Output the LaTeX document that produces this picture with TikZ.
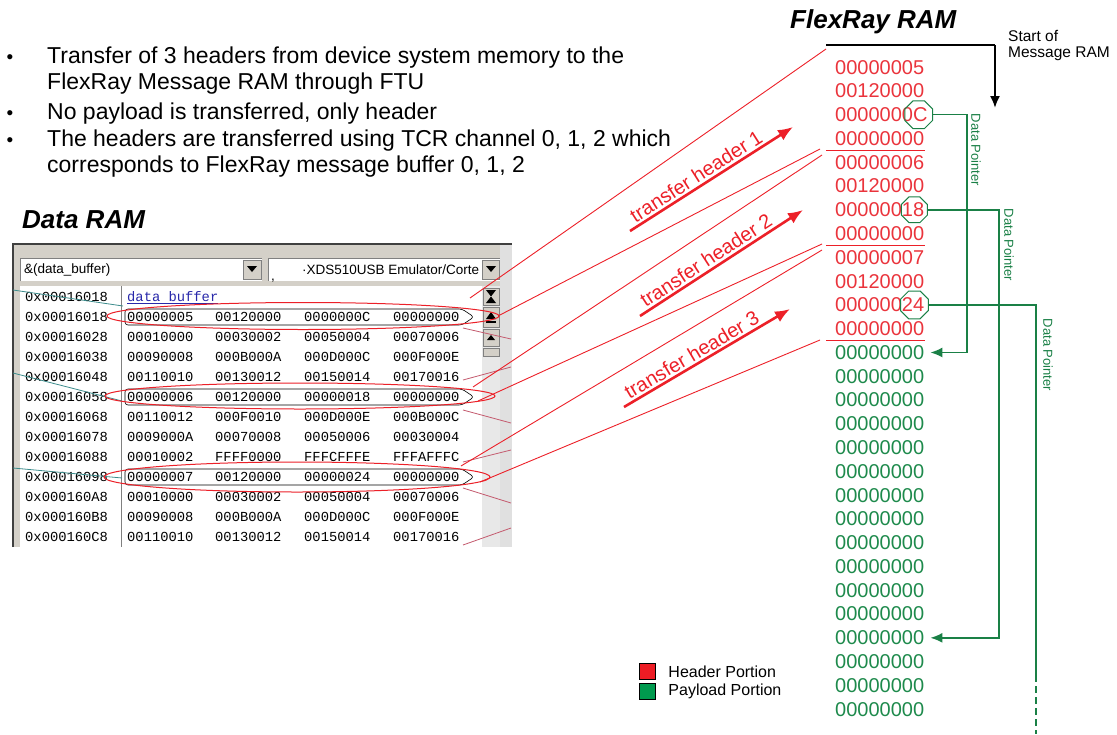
\documentclass[tikz,border=0pt]{standalone}
\usepackage{fontspec}
\setmainfont{Liberation Sans}
\newfontfamily\memfont{Liberation Mono}
\usetikzlibrary{shapes.geometric,arrows.meta,positioning}

\definecolor{hdrred}{RGB}{236,32,40}
\definecolor{valred}{RGB}{234,52,60}
\definecolor{ptrgreen}{RGB}{26,128,70}
\definecolor{valgreen}{RGB}{30,138,76}
\definecolor{legred}{RGB}{237,28,36}
\definecolor{leggreen}{RGB}{0,154,78}
\definecolor{winface}{RGB}{212,208,200}
\definecolor{winshade}{RGB}{128,128,128}
\definecolor{ghostred}{RGB}{196,90,110}
\definecolor{ghostteal}{RGB}{60,140,140}
\definecolor{symblue}{RGB}{40,40,170}

\tikzset{
  bulletmark/.style={anchor=base, inner sep=0pt, font=\fontsize{19}{20}\selectfont},
  bullettext/.style={anchor=base west, inner sep=0pt, font=\fontsize{23}{26}\selectfont},
  heading/.style={anchor=west, inner sep=0pt, font=\fontsize{26}{30}\selectfont\bfseries\itshape},
  memtxt/.style={anchor=base west, inner sep=0pt, font=\memfont\fontsize{13.8}{16}\selectfont},
  combotxt/.style={anchor=west, inner sep=0pt, font=\fontsize{13.5}{16}\selectfont},
  winbtn/.style={fill=winface, draw=winshade, line width=0.6pt},
  ramval/.style={anchor=base west, inner sep=0pt, font=\fontsize{20}{24}\selectfont},
  sepline/.style={draw=hdrred, line width=1.2pt},
  hdrring/.style={draw=hdrred, line width=1pt},
  xfer/.style={draw=hdrred, line width=0.9pt},
  xferarrow/.style={draw=hdrred, line width=2.6pt, -{Latex[length=15pt,width=12pt]}},
  xferlabel/.style={text=hdrred, font=\fontsize{20}{24}\selectfont, sloped, above, inner sep=2pt},
  octo/.style={draw=ptrgreen, regular polygon, regular polygon sides=8, minimum size=30pt, inner sep=0pt, line width=1pt},
  ptrline/.style={draw=ptrgreen, line width=1.6pt},
  ptr/.style={ptrline, -{Latex[length=12pt,width=10pt]}},
  ptrlabel/.style={rotate=-90, text=ptrgreen, inner sep=0pt, font=\fontsize{13}{15}\selectfont},
  legbox/.style={draw=black, line width=1.5pt, minimum size=16pt, inner sep=0pt},
  legtxt/.style={inner sep=0pt, font=\fontsize{16}{18}\selectfont},
}

\begin{document}
\begin{tikzpicture}[x=1pt,y=-1pt]
\useasboundingbox (0,0) rectangle (1117,734);

% bullet list
\foreach \y in {63,119,146} \node[bulletmark] at (10,\y) {•};
\node[bullettext] (bl1a) at (47,63) {Transfer of 3 headers from device system memory to the};
\node[bullettext] (bl1b) at (47,89) {FlexRay Message RAM through FTU};
\node[bullettext] (bl2)  at (47,119) {No payload is transferred, only header};
\node[bullettext] (bl3a) at (47,146) {The headers are transferred using TCR channel 0, 1, 2 which};
\node[bullettext] (bl3b) at (47,172) {corresponds to FlexRay message buffer 0, 1, 2};

\node[heading] (dram) at (22,220) {Data RAM};
\node[heading] (fram) at (790,22) {FlexRay RAM};

% memory window
\fill[winface] (12,243) rectangle (512,547);
\fill[black!12] (500,243) rectangle (512,547);
\draw[black!75, line width=2pt] (13,547) -- (13,244) -- (512,244);
\fill[white] (20,258) rectangle (262,281);
\draw[winshade] (20,281) -- (20,258) -- (262,258);
\draw[winbtn] (243,260) rectangle (261,279);
\fill (247,266) -- (257,266) -- (252,272) -- cycle;
\node[combotxt] (expr) at (24,270) {\&(data\_buffer)};
\fill[white] (268,258) rectangle (500,281);
\draw[winshade] (268,281) -- (268,258) -- (500,258);
\draw[winbtn] (482,260) rectangle (499,279);
\fill (486,266) -- (496,266) -- (491,272) -- cycle;
\node[combotxt] (target) at (302,270) {·XDS510USB Emulator/Corte};
\node[combotxt] at (271,281) {,};

\fill[white] (20,286) rectangle (482,547);
\fill[black!9] (482,286) rectangle (500,547);
\draw[winshade, line width=1pt] (121,286) -- (121,547);
\draw[winbtn] (483,288) rectangle (499,305);
\fill (486,290) -- (496,290) -- (491,296.5) -- cycle;
\fill (486,303) -- (496,303) -- (491,296.5) -- cycle;
\draw[winbtn] (483,307) rectangle (499,327);
\fill (486,319) -- (496,319) -- (491,312) -- cycle;
\fill (486,320.5) rectangle (496,322.5);
\draw[winbtn] (483,329) rectangle (499,346);
\fill (487,340) -- (495,340) -- (491,335) -- cycle;
\draw[winbtn] (483,348) rectangle (499,356);

\node[memtxt] (ad0) at (25,301.5) {0x00016018};
\node[memtxt, text=symblue] (sym) at (127,301.5) {\underline{data buffer}};
\foreach \i/\ad/\va/\vb/\vc/\vd in {
  1/0x00016018/00000005/00120000/0000000C/00000000,
  2/0x00016028/00010000/00030002/00050004/00070006,
  3/0x00016038/00090008/000B000A/000D000C/000F000E,
  4/0x00016048/00110010/00130012/00150014/00170016,
  5/0x00016058/00000006/00120000/00000018/00000000,
  6/0x00016068/00110012/000F0010/000D000E/000B000C,
  7/0x00016078/0009000A/00070008/00050006/00030004,
  8/0x00016088/00010002/FFFF0000/FFFCFFFE/FFFAFFFC,
  9/0x00016098/00000007/00120000/00000024/00000000,
  10/0x000160A8/00010000/00030002/00050004/00070006,
  11/0x000160B8/00090008/000B000A/000D000C/000F000E,
  12/0x000160C8/00110010/00130012/00150014/00170016} {
  \pgfmathsetmacro{\yb}{301.5+20*\i}
  \node[memtxt] (ad\i) at (25,\yb) {\ad};
  \node[memtxt] at (127,\yb) {\va};
  \node[memtxt] at (215,\yb) {\vb};
  \node[memtxt] at (304,\yb) {\vc};
  \node[memtxt] at (393,\yb) {\vd};
}

% traces of lines behind the window
\draw[ghostteal, line width=0.8pt] (13,290) -- (123,306);
\draw[ghostteal, line width=0.8pt] (13,373) -- (122,401);
\draw[ghostteal, line width=0.8pt] (13,468) -- (122,478);
\foreach \ya/\yb in {328/339, 380/367, 410/423, 462/450, 488/503, 545/528}
  \draw[ghostred, line width=0.8pt] (463,\ya) -- (511,\yb);

% outlined header rows
\foreach \y in {317,397,477}
  \draw[line width=0.6pt, rounded corners=3pt] (125,\y-8) -- (462,\y-8) -- (474,\y) -- (462,\y+8) -- (125,\y+8) -- cycle;
\draw[hdrring] (303,316) ellipse [x radius=196, y radius=13.5];
\draw[hdrring] (300,396) ellipse [x radius=195, y radius=13];
\draw[hdrring] (297,477) ellipse [x radius=193, y radius=15];

% FlexRay message RAM
\foreach \v [count=\k] in {00000005,00120000,0000000C,00000000,00000006,00120000,00000018,00000000,00000007,00120000,00000024,00000000} {
  \pgfmathsetmacro{\yb}{74+23.78*(\k-1)}
  \node[ramval, text=valred] (r\k) at (835,\yb) {\v};
}
\foreach \k in {13,...,28} {
  \pgfmathsetmacro{\yb}{74+23.78*(\k-1)}
  \node[ramval, text=valgreen] (r\k) at (835,\yb) {00000000};
}
\foreach \k in {4,8,12} {
  \pgfmathsetmacro{\ys}{67+23.78*(\k-0.5)}
  \draw[sepline] (826,\ys) -- (925,\ys);
}

\coordinate (ramtop) at (826,45);
\coordinate (ramcorner) at (995,45);
\draw[line width=2pt] (ramtop) -- (ramcorner);
\draw[line width=2pt, -{Latex[length=12pt,width=10pt]}] (ramcorner) -- (995,108);
\node[combotxt, font=\fontsize{15.5}{18}\selectfont] (st1) at (1008,36) {Start of};
\node[combotxt, font=\fontsize{15.5}{18}\selectfont] (st2) at (1008,54) {Message RAM};

% header transfer lines
\coordinate (h1top) at (470,298);
\coordinate (h1bot) at (498,316);
\coordinate (h2top) at (473,387);
\coordinate (h2bot) at (478,401);
\coordinate (h3top) at (461,466);
\coordinate (h3bot) at (480,482);
\coordinate (s0) at (826,49);
\coordinate (s1a) at (820,149);
\coordinate (s1b) at (822,155);
\coordinate (s2a) at (822,244);
\coordinate (s2b) at (822,250);
\coordinate (s3a) at (820,340);
\draw[xfer] (h1top) -- (s0);
\draw[xfer] (h1bot) -- (s1a);
\draw[xfer] (h2top) -- (s1b);
\draw[xfer] (h2bot) -- (s2a);
\draw[xfer] (h3top) -- (s2b);
\draw[xfer] (h3bot) -- (s3a);

\draw[xferarrow] (630,231) -- (793,127) node[xferlabel, pos=0.44] {transfer header 1};
\draw[xferarrow] (640,316) -- (803,210) node[xferlabel, pos=0.44] {transfer header 2};
\draw[xferarrow] (624,407) -- (790,309) node[xferlabel, pos=0.44] {transfer header 3};

% data pointers
\node[octo] (c1) at ([xshift=-9pt]r3.east) {};
\node[octo, minimum size=28pt] (c2) at ([xshift=-10pt]r7.east) {};
\node[octo] (c3) at ([xshift=-10pt]r11.east) {};
\coordinate (k1) at (967,0);
\coordinate (k2) at (999,0);
\coordinate (k3) at (1036,675);
\coordinate (k3end) at (1036,734);
\draw[ptr] (c1.east) -| (k1 |- r13.east) -- ([xshift=6pt]r13.east);
\draw[ptr] (c2.east) -| (k2 |- r25.east) -- ([xshift=6pt]r25.east);
\draw[ptrline] (c3.east) -| (k3);
\draw[ptrline, dash pattern=on 7pt off 4pt] (k3) -- (k3end);
\node[ptrlabel] (dp1) at (976,150) {Data Pointer};
\node[ptrlabel] (dp2) at (1009,245) {Data Pointer};
\node[ptrlabel] (dp3) at (1048,355) {Data Pointer};

% legend
\node[legbox, fill=legred] (lh) at (647.5,671.5) {};
\node[legbox, fill=leggreen] (lp) at (647.5,691.5) {};
\node[legtxt, right=12pt of lh] {Header Portion};
\node[legtxt, right=12pt of lp] {Payload Portion};
\end{tikzpicture}
\end{document}
